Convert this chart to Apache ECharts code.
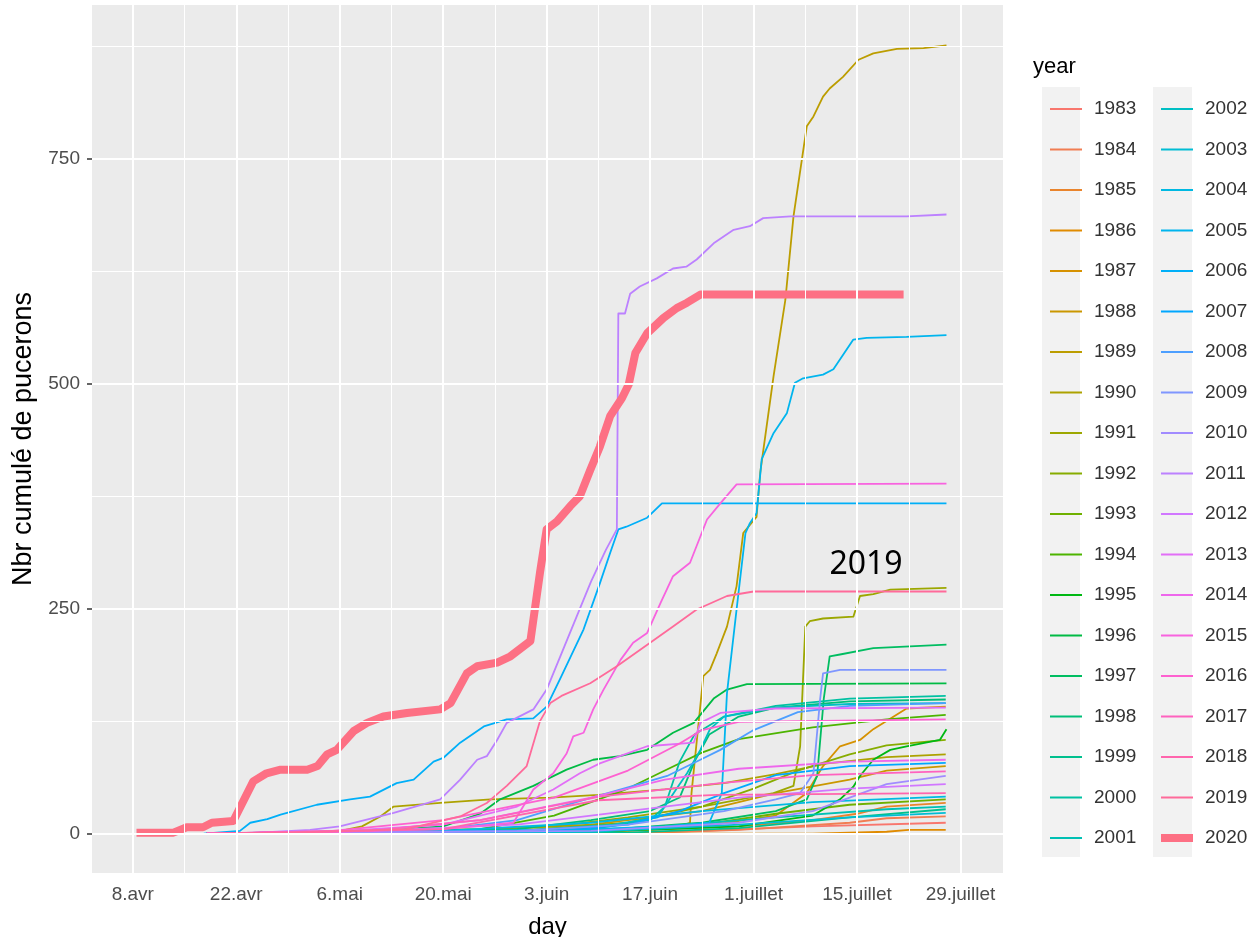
<!DOCTYPE html>
<html>
<head>
<meta charset="utf-8">
<script src="https://cdn.jsdelivr.net/npm/echarts@6/dist/echarts.min.js"></script>
<style>
html, body { margin: 0; padding: 0; background: #fff; }
#chart { width: 1252px; height: 937px; }
</style>
</head>
<body>
<div id="chart"></div>
<script>
// x = day of year (98 = 8 avril)
var dayTicks = [98, 112, 126, 140, 154, 168, 182, 196, 210];
var dayLabels = ['8.avr', '22.avr', '6.mai', '20.mai', '3.juin', '17.juin', '1.juillet', '15.juillet', '29.juillet'];
var dayMinor = [105, 119, 133, 147, 161, 175, 189, 203];
var countTicks = [0, 250, 500, 750];
var countMinor = [125, 375, 625, 875];
var years = [1983, 1984, 1985, 1986, 1987, 1988, 1989, 1990, 1991, 1992, 1993, 1994, 1995, 1996, 1997, 1998, 1999,
  2000, 2001, 2002, 2003, 2004, 2005, 2006, 2007, 2008, 2009, 2010, 2011, 2012, 2013, 2014, 2015, 2016, 2017, 2018, 2019, 2020];

// cumulated counts, [day, value]
var y1983 = [[108,0],[160,0],[175,3],[190,8],[208,12]];
var y1984 = [[108,0],[165,0],[180,4],[195,12],[200,17],[208,19]];
var y1985 = [[108,0],[150,0],[165,3],[180,8],[190,15],[196,22],[200,30],[208,34]];
var y1986 = [[108,0],[190,0],[200,2],[203,4],[208,4]];
var y1987 = [[108,0],[160,2],[175,8],[185,20],[189.2,45],[191.4,75],[193.7,97],[196.4,104],[198.2,116],[202.7,139],[208,141]];
var y1988 = [[108,0],[140,2],[160,10],[175,25],[185,45],[195,60],[200,70],[208,75]];
var y1989 = [[108,0],[150,2],[165,5],[172,8],[173.4,12],[173.6,45],[175.2,175],[176.1,182],[177,200],[178.4,230],[179.7,275],
  [180.6,334],[182.4,352],[182.9,401],[184.7,508],[186.3,593],[187.4,686],[189.2,786],[190.1,797],[191.4,819],[192.3,828],
  [194.1,841],[196.2,860],[198.2,867],[201.4,872],[205,873],[208.1,876]];
var y1990 = [[108,0],[125,1],[129,8],[131.5,19],[133.3,30],[139.6,34],[146.4,38],[154.5,40],[161,43],[170,49],[178,56],[185,66],[192,78],[200,85],[208,88]];
var y1991 = [[108,0],[140,2],[155,8],[165,18],[175,30],[180.2,38],[184.7,45],[187.4,53],[188.3,97],[189,230],[189.6,236],
  [191.4,239],[195.5,241],[196.4,264],[198.2,266],[200.5,271],[208.1,273]];
var y1992 = [[108,0],[150,3],[165,12],[175,30],[182,50],[188,70],[195,88],[200,98],[208,104]];
var y1993 = [[108,0],[160,2],[175,10],[185,22],[195,32],[208,38]];
var y1994 = [[108,0],[145,5],[155,20],[160,35],[165,50],[170,70],[175,90],[180,105],[190,118],[200,127],[208,132]];
var y1995 = [[108,0],[160,2],[180,8],[190,20],[193.7,38],[195.5,52],[196.4,64],[198.2,82],[200.5,93],[202.7,97],[207.2,104],[208.1,116]];
var y1996 = [[108,0],[130,2],[140,8],[145,22],[147.7,38],[152.2,53],[156.7,71],[160.3,82],[163.9,86],[167.6,93],[171.1,112],
  [173.9,123],[176.6,150],[178.4,160],[181.1,166],[208.1,167]];
var y1997 = [[108,0],[160,3],[175,12],[185,25],[189.2,38],[190.6,64],[191.5,150],[192.3,197],[193.7,199],[198.2,206],[208.1,210]];
var y1998 = [[108,0],[150,5],[160,15],[168,25],[172,40],[174,80],[176,110],[180,130],[185,140],[195,147],[208,149]];
var y1999 = [[108,0],[165,1],[180,6],[195,18],[208,27]];
var y2000 = [[108,0],[160,5],[168,15],[170,30],[172,80],[174,110],[178,130],[185,142],[195,150],[208,153]];
var y2001 = [[108,0],[155,2],[170,8],[185,18],[200,27],[208,30]];
var y2002 = [[108,0],[150,3],[163,10],[169,18],[171.6,50],[173,67],[174.8,93],[176.1,116],[178,130],[185,140],[195,144],[208,145]];
var y2003 = [[108,0],[160,2],[180,10],[195,18],[208,23]];
var y2004 = [[108,0],[140,3],[160,12],[175,25],[190,35],[208,41]];
var y2005 = [[108,0],[140,2],[160,5],[170,8],[176,12],[177.7,45],[178.4,156],[179.7,249],[180.9,334],[181.5,345],[182.4,356],
  [183.1,416],[184.7,445],[186.5,467],[187.6,501],[188.7,506],[191.4,510],[192.8,516],[195.5,549],[197.3,551],[202.7,552],[208.1,554]];
var y2006 = [[107.6,0],[112.5,3],[113.9,12],[116.2,16],[118,21],[122.9,32],[127.4,38],[130.1,41],[133.7,56],[136,60],[138.7,80],
  [140,84],[142.3,101],[145.5,119],[148.6,127],[152.2,128],[154,141],[156,175],[159,227],[161.2,278],[162.6,312],[163.7,338],
  [164.8,341],[167.6,351],[169.6,367],[208.1,367]];
var y2007 = [[108,0],[155,3],[165,10],[172,25],[178,45],[185,65],[195,75],[208,78.5]];
var y2008 = [[108,0],[140,5],[150,15],[158,35],[165.7,53],[170.3,64],[174.8,82],[177.5,93],[182,115],[188,135],[195,142],[208,145]];
var y2009 = [[108,0],[150,3],[165,10],[178,25],[185,38],[188.3,45],[190.1,67],[191,149],[191.4,178],[193.7,182],[208.1,182]];
var y2010 = [[108,0],[160,3],[180,12],[190,25],[195,40],[200,55],[208,64]];
var y2011 = [[108,0],[115,1],[122,4],[126,8],[133.3,23],[139.6,38],[142.3,60],[144.6,82],[145.9,86],[147.3,104],[148.6,123],
  [152.2,138],[154,160],[156,200],[158,240],[160,280],[162,315],[163.5,338],[163.7,578],[164.6,578],[165.3,600],[166.6,608],
  [168.9,617],[171.1,628],[172.9,630],[174.3,638],[176.6,656],[179.3,671],[181.5,675],[183.3,684],[187,686],[202.7,686],[208.1,688]];
var y2012 = [[108,0],[130,3],[150,10],[165,25],[180,40],[195,50],[208,55]];
var y2013 = [[108,0],[125,2],[140,10],[150,30],[154.9,49],[158.5,67],[161.2,78],[163.9,86],[167.6,97],[173.9,101],[174.8,123],
  [177.5,134],[185,139],[208,140]];
var y2014 = [[108,0],[130,3],[145,15],[160,40],[170,60],[180,72],[195,80],[208,82]];
var y2015 = [[108,0],[125,2],[140,5],[149.5,12],[152.2,49],[154.9,67],[156.7,89],[157.6,108],[159,112],[160.3,138],[161.7,160],
  [164,193],[165.7,212],[167.6,223],[169.4,256],[171.1,286],[173.4,301],[175.7,349],[177.5,367],[179.7,388],[208.1,389]];
var y2016 = [[108,0],[125,3],[140,15],[155,40],[165,70],[172,100],[175,115],[180,124],[208,127]];
var y2017 = [[108,0],[130,3],[145,15],[161.2,41],[177.5,56],[190,65],[208,69]];
var y2018 = [[108,0],[140,5],[161,37],[177,43],[208,45]];
var y2019 = [[108,0],[120,1],[135,5],[142.3,19],[145.9,34],[148.6,53],[151.3,75],[153.1,125],[154.5,145],[156,153],[159.9,167],
  [163.5,186],[168,212],[171.1,230],[174.3,249],[178.4,264],[182,269],[208.1,269]];
var y2020 = [[98.5,1],[103.5,1],[105.3,7],[107.5,7],[108.7,12],[111.6,14],[114.3,58],[116.1,67],[118,71],[121.6,71],[123,75],
  [124.3,88],[125.6,93],[127.9,114],[129.7,123],[131.9,130],[135.1,134],[139.6,138],[141,145],[143.2,178],[144.6,186],[147.3,190],
  [149.1,197],[151.8,214],[153.1,290],[154,338],[155.4,347],[157.2,364],[158.5,375],[159.9,404],[161.2,430],[162.6,464],
  [164.2,484],[165.1,499],[166,534],[167.6,556],[169.8,573],[171.6,584],[173,590],[174.8,599],[202.3,599]];

var curves = [y1983, y1984, y1985, y1986, y1987, y1988, y1989, y1990, y1991, y1992, y1993, y1994, y1995, y1996, y1997,
  y1998, y1999, y2000, y2001, y2002, y2003, y2004, y2005, y2006, y2007, y2008, y2009, y2010, y2011, y2012, y2013, y2014,
  y2015, y2016, y2017, y2018, y2019, y2020];

// ggplot hue palette: hcl(h, c = 100, l = 65)
function hcl(h, c, l) {
  var hr = h * Math.PI / 180, U = c * Math.cos(hr), V = c * Math.sin(hr);
  var Xn = 95.047, Yn = 100, Zn = 108.883, t = Xn + 15 * Yn + 3 * Zn;
  var Y = l > 8 ? Yn * Math.pow((l + 16) / 116, 3) : Yn * l / 903.3;
  var u = U / (13 * l) + 4 * Xn / t, v = V / (13 * l) + 9 * Yn / t;
  var X = 9 * Y * u / (4 * v), Z = -X / 3 - 5 * Y + 3 * Y / v;
  X /= 100; Y /= 100; Z /= 100;
  var rgb = [3.240479 * X - 1.537150 * Y - 0.498535 * Z,
    -0.969256 * X + 1.875992 * Y + 0.041556 * Z,
    0.055648 * X - 0.204043 * Y + 1.057311 * Z];
  return '#' + rgb.map(function (a) {
    a = a <= 0.0031308 ? 12.92 * a : 1.055 * Math.pow(a, 1 / 2.4) - 0.055;
    a = Math.round(Math.max(0, Math.min(1, a)) * 255);
    return (a < 16 ? '0' : '') + a.toString(16);
  }).join('');
}

var font = 'Liberation Sans';
var majorLine = {color: '#ffffff', width: 2, type: 'solid'};
var minorLine = {color: '#ffffff', width: 1, type: 'solid'};

var series = [{
  type: 'line', data: [], silent: true, z: 1,
  markLine: {
    silent: true, symbol: ['none', 'none'], animation: false, label: {show: false},
    data: [].concat(
      dayMinor.map(function (d) { return {xAxis: d, lineStyle: minorLine}; }),
      countMinor.map(function (v) { return {yAxis: v, lineStyle: minorLine}; }),
      dayTicks.map(function (d) { return {xAxis: d, lineStyle: majorLine}; }),
      countTicks.map(function (v) { return {yAxis: v, lineStyle: majorLine}; })
    )
  }
}];

years.forEach(function (yr, i) {
  var col = hcl(15 + 360 * i / years.length, 100, 65);
  series.push({
    name: String(yr), type: 'line', data: curves[i], symbol: 'none', z: 2, silent: true,
    itemStyle: {color: col},
    lineStyle: {color: col, width: yr === 2020 ? 8 : 1.8, cap: 'butt', join: 'round'},
    emphasis: {disabled: true}
  });
});

var thinKey = 'path://M0,0H32V2H0Z';
var thickKey = 'path://M0,0H32V8H0Z';
function legendCol(names, left) {
  return {
    data: names.map(function (n) { return {name: n, icon: n === '2020' ? thickKey : thinKey}; }),
    orient: 'vertical', left: left, top: 94, selectedMode: false,
    itemWidth: 32, itemHeight: 20, itemGap: 20.5,
    textStyle: {fontFamily: font, fontSize: 19, color: '#333', lineHeight: 20, padding: [0, 0, 0, 7]}
  };
}
var names = years.map(String);

var chart = echarts.init(document.getElementById('chart'), null, {renderer: 'canvas'});
chart.setOption({
  animation: false,
  backgroundColor: '#ffffff',
  textStyle: {fontFamily: font},
  grid: {
    left: 92, right: 249, top: 5, bottom: 64, show: true, backgroundColor: '#EBEBEB', borderWidth: 0,
    containLabel: false, outerBoundsMode: 'none'
  },
  xAxis: {
    type: 'value', min: 92.48, max: 215.75,
    name: 'day', nameLocation: 'middle', nameGap: 42,
    nameTextStyle: {fontFamily: font, fontSize: 24, color: '#000'},
    axisLine: {show: false},
    axisTick: {show: true, length: 5, lineStyle: {color: '#333', width: 1.5}, customValues: dayTicks},
    axisLabel: {
      fontSize: 19, color: '#4D4D4D', margin: 12, customValues: dayTicks,
      formatter: function (v) { return dayLabels[dayTicks.indexOf(v)]; }
    },
    splitLine: {show: false}
  },
  yAxis: {
    type: 'value', min: -43.85, max: 920.85,
    name: 'Nbr cumulé de pucerons', nameLocation: 'middle', nameGap: 42,
    nameTextStyle: {fontFamily: font, fontSize: 27, color: '#000'},
    axisLine: {show: false},
    axisTick: {show: true, length: 5, lineStyle: {color: '#333', width: 1.5}, customValues: countTicks},
    axisLabel: {fontSize: 19, color: '#4D4D4D', margin: 12, customValues: countTicks},
    splitLine: {show: false}
  },
  legend: [legendCol(names.slice(0, 19), 1045), legendCol(names.slice(19), 1156)],
  graphic: [
    {type: 'rect', z: 0, shape: {x: 1042, y: 87, width: 38, height: 770}, style: {fill: '#F2F2F2'}},
    {type: 'rect', z: 0, shape: {x: 1153, y: 87, width: 39, height: 770}, style: {fill: '#F2F2F2'}},
    {type: 'text', x: 1033, y: 67, style: {text: 'year', fontFamily: font, fontSize: 22, fill: '#000', verticalAlign: 'middle'}},
    {type: 'text', x: 866, y: 565, z: 10, style: {text: '2019', fontFamily: 'Noto Sans', fontSize: 32, fill: '#000', align: 'center', verticalAlign: 'middle'}}
  ],
  series: series
});
</script>
</body>
</html>
